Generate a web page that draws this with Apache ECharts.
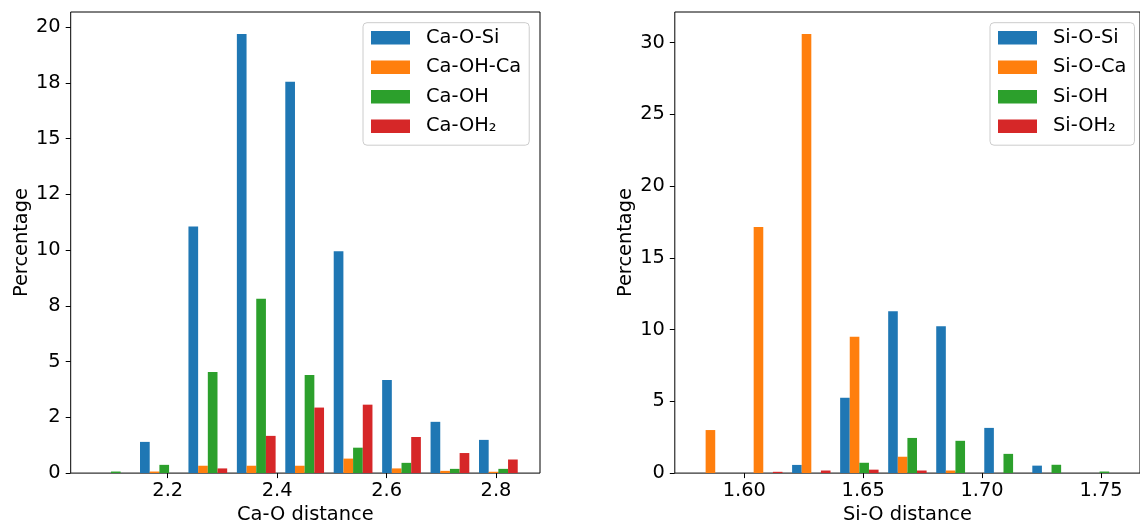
<!DOCTYPE html>
<html>
<head>
<meta charset="utf-8">
<script src="https://cdn.jsdelivr.net/npm/echarts@6/dist/echarts.min.js"></script>
<style>
    html, body { margin: 0; padding: 0; background: #fff; }
    #chart { width: 1140px; height: 529px; }
</style>
</head>
<body>
<div id="chart"></div>
<script>
// 左图：Ca-O 距离分布（每个 bin 的中心）
const caBins = [2.0963, 2.1848, 2.2733, 2.3618, 2.4503, 2.5388, 2.6273, 2.7158, 2.8043]
const caBinWidth = 0.0885
const caOSi = [0, 1.40, 11.06, 19.70, 17.56, 9.95, 4.18, 2.30, 1.49]
const caOHCa = [0, 0.07, 0.33, 0.33, 0.33, 0.65, 0.21, 0.10, 0.06]
const caOH = [0.07, 0.37, 4.54, 7.82, 4.40, 1.14, 0.46, 0.19, 0.19]
const caOH2 = [0, 0, 0.21, 1.67, 2.94, 3.07, 1.62, 0.90, 0.61]

// 右图：Si-O 距离分布
const siBins = [1.5878, 1.6080, 1.6282, 1.6484, 1.6686, 1.6888, 1.7090, 1.7292, 1.7494]
const siBinWidth = 0.0202
const siOSi = [0, 0, 0.57, 5.25, 11.28, 10.23, 3.15, 0.52, 0]
const siOCa = [3.00, 17.15, 30.60, 9.50, 1.14, 0.18, 0, 0, 0]
const siOH = [0, 0, 0, 0.72, 2.45, 2.25, 1.34, 0.58, 0.11]
const siOH2 = [0, 0.09, 0.18, 0.24, 0.18, 0, 0, 0, 0]

const caNames = ['Ca-O-Si', 'Ca-OH-Ca', 'Ca-OH', 'Ca-OH₂']
const siNames = ['Si-O-Si', 'Si-O-Ca', 'Si-OH', 'Si-OH₂']

// 刻度
const caXTicks = [2.2, 2.4, 2.6, 2.8]
const caYTicks = [0, 2.5, 5, 7.5, 10, 12.5, 15, 17.5, 20]
const caYTickLabels = ['0', '2', '5', '8', '10', '12', '15', '18', '20']
const siXTicks = [1.60, 1.65, 1.70, 1.75]
const siYTicks = [0, 5, 10, 15, 20, 25, 30]

const colors = ['#1f77b4', '#ff7f0e', '#2ca02c', '#d62728']
const FONT = 'DejaVu Sans'
const FS = 19.4

/**
 * 直方图柱子（四组并排，占 bin 宽度的 80%）
 */
function barRenderer(binW, idx) {
    return function (params, api) {
        const x = api.value(0)
        const v = api.value(1)
        if (!v) return null
        const barW = (binW * 0.8) / 4
        const left = x - binW * 0.4 + idx * barW
        const p0 = api.coord([left, v])
        const p1 = api.coord([left + barW, 0])
        return {
            type: 'rect',
            shape: { x: p0[0], y: p0[1], width: p1[0] - p0[0], height: p1[1] - p0[1] },
            style: { fill: api.visual('color') },
        }
    }
}

function makeSeries(names, bins, binW, lists, axisIndex) {
    return lists.map((vals, i) => ({
        name: names[i],
        type: 'custom',
        xAxisIndex: axisIndex,
        yAxisIndex: axisIndex,
        itemStyle: { color: colors[i] },
        renderItem: barRenderer(binW, i),
        data: bins.map((b, j) => [b, vals[j]]),
        clip: true,
    }))
}

function xAxis(gridIndex, min, max, ticks, fmt, name) {
    return {
        type: 'value',
        gridIndex,
        min,
        max,
        name,
        nameLocation: 'middle',
        nameGap: 31,
        nameTextStyle: { fontFamily: FONT, fontSize: FS, color: '#000' },
        axisLine: { show: false },
        splitLine: { show: false },
        axisTick: { show: true, length: 5, customValues: ticks, lineStyle: { color: '#000', width: 1 } },
        axisLabel: { customValues: ticks, formatter: fmt, margin: 8, fontFamily: FONT, fontSize: FS, color: '#000' },
    }
}

function yAxis(gridIndex, max, ticks, fmt) {
    return {
        type: 'value',
        gridIndex,
        min: 0,
        max,
        name: 'Percentage',
        nameLocation: 'middle',
        nameGap: 39,
        nameTextStyle: { fontFamily: FONT, fontSize: FS, color: '#000' },
        axisLine: { show: false },
        splitLine: { show: false },
        axisTick: { show: true, length: 5, customValues: ticks, lineStyle: { color: '#000', width: 1 } },
        axisLabel: { customValues: ticks, formatter: fmt, margin: 10, fontFamily: FONT, fontSize: FS, color: '#000' },
    }
}

function legend(names, left) {
    return {
        data: names,
        orient: 'vertical',
        left,
        top: 22.7,
        icon: 'rect',
        itemWidth: 39,
        itemHeight: 13.6,
        itemGap: 9.5,
        padding: [5, 8, 9, 8],
        borderColor: '#cccccc',
        borderWidth: 1,
        borderRadius: 4,
        backgroundColor: 'rgba(255,255,255,0.8)',
        selectedMode: false,
        textStyle: { fontFamily: FONT, fontSize: FS, color: '#000', lineHeight: 20, padding: [0, 0, 0, 11] },
    }
}

const chart = echarts.init(document.getElementById('chart'), null, { renderer: 'canvas' })

const option = {
    animation: false,
    grid: [
        { left: 70.7, top: 12, width: 469.3, height: 466.7, show: true, borderColor: '#000', borderWidth: 1 },
        { left: 674.8, top: 12, width: 468.1, height: 466.7, show: true, borderColor: '#000', borderWidth: 1 },
    ],
    xAxis: [
        xAxis(0, 2.0227, 2.8804, caXTicks, (v) => v.toFixed(1), 'Ca-O distance'),
        xAxis(1, 1.5708, 1.7664, siXTicks, (v) => v.toFixed(2), 'Si-O distance'),
    ],
    yAxis: [
        yAxis(0, 20.685, caYTicks, (v) => caYTickLabels[caYTicks.indexOf(v)] ?? ''),
        yAxis(1, 32.13, siYTicks, (v) => String(v)),
    ],
    legend: [legend(caNames, 363), legend(siNames, 990)],
    series: [
        ...makeSeries(caNames, caBins, caBinWidth, [caOSi, caOHCa, caOH, caOH2], 0),
        ...makeSeries(siNames, siBins, siBinWidth, [siOSi, siOCa, siOH, siOH2], 1),
    ],
}

chart.setOption(option)
</script>
</body>
</html>
